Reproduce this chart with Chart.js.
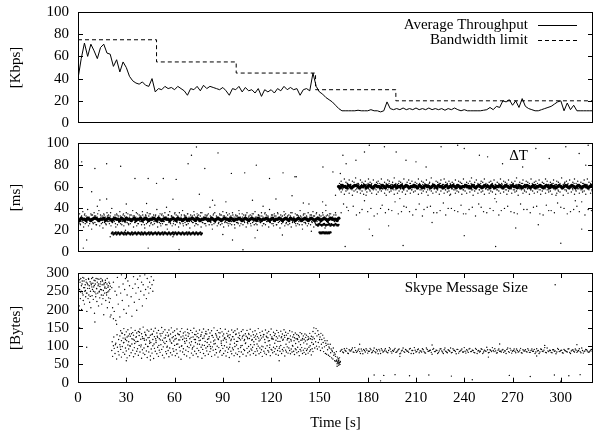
<!DOCTYPE html>
<html><head><meta charset="utf-8">
<script src="https://cdn.jsdelivr.net/npm/chart.js@4.4.1/dist/chart.umd.min.js"></script>
<style>
html,body{margin:0;padding:0;background:#fff;width:594px;height:434px;overflow:hidden}
canvas{position:absolute;left:0}
</style></head><body>
<canvas id="c1" width="594" height="132" style="top:0px"></canvas>
<canvas id="c2" width="594" height="132" style="top:130px"></canvas>
<canvas id="c3" width="594" height="172" style="top:262px"></canvas>
<script>
// ---------------- DATA ----------------
const timeTicks = [0,30,60,90,120,150,180,210,240,270,300];
// Top panel: average throughput sampled every 2 s
const thrStart = 0, thrStep = 2;
const throughput = [40,58,72,60,71,65,58,68,71,63,62,51,57,46,55,50,42,38,36,35,
37,34,33,40,28,31,30,33,31,32,30,33,31,29,25,31,30,33,29,34,
31,33,32,31,30,32,29,25,31,30,33,28,32,29,30,27,31,24,30,28,
30,27,31,29,33,30,32,30,31,25,30,31,29,45,33,28,26,23,21,19,
16,13,11,11,11,11,11,11.5,11,11,11,12,11,11,10,11,19,13,12,13,
12,13.5,12,13,12,13.5,12,13,12,13.5,12,13,12,13,11.5,13,12,13.5,12,11,
12,11,11,11,11,11,11.5,12,14,12,15,14,20,19,21,16,20,14,22,15,
13,12,11,11,12,13,14,15,17,19,20,11,18,12,16,11,11,11,11,11,11];
const bwTimes = [0,48.8,98.3,147.6,197.5,320];
const bwValues = [75,55,45,30,20,20];

// Middle panel: delta T [ms]
const core30Start = 0, core30Step = 1;
const core30 = [30,29,31,30,30,29,31,30,29,30,31,31,30,29,30,30,31,29,30,31,
30,29,30,31,30,30,29,31,30,29,31,30,30,29,30,31,29,30,30,31,
29,30,31,30,29,30,30,31,30,29,31,30,29,30,31,30,30,29,30,31,
30,29,31,30,30,29,30,31,29,30,30,31,30,29,31,30,29,30,30,31,
30,30,29,31,30,29,30,31,30,29,30,31,30,30,29,31,30,29,30,30,
31,30,29,30,31,30,29,30,31,30,30,29,31,30,29,30,30,31,30,29,
30,31,29,30,30,31,30,29,30,31,30,29,31,30,30,29,30,31,30,29,
30,31,30,29,30,31,30,29,30,31,30,29,30,31,30,29,30,31,30,30,
30,29,31];
const core25Start = 148, core25Step = 0.5;
const core25 = [25,25,24,25,26,25,25,24,25,25,26,25,24,25,25,25,26,25,24,25,25,25,24,25,26,25,25,24,25];
const band18Start = 21, band18Step = 0.5;
const band18 = [17,18,16,17,17,18,16,17,18,17,16,17,18,17,17,16,18,17,16,17,
18,17,17,16,17,18,16,17,17,18,17,16,17,18,17,17,16,18,17,16,
17,18,17,16,17,17,18,16,17,18,17,16,17,17,18,17,16,17,18,17,
16,17,17,18,16,17,18,17,17,16,17,18,17,16,17,17,18,16,17,18,
17,16,17,18,17,17,16,17,18,17,16,17,17,18,16,17,18,17,16,17,
17,18,17,16,17,18,17,16,17,17,18,16,17];
const band18bStart = 150, band18bStep = 0.5;
const band18b = [18,17,18,17,18,18,17,18,17,18,17,18,17,18,18];
const cloud30HiStart = 0, cloud30HiStep = 1;
const cloud30Hi = [33,35,32,37,34,33,39,32,35,34,36,33,32,38,34,33,35,32,36,34,
33,40,32,34,35,33,37,32,34,33,36,35,32,34,38,33,32,35,34,33,
37,32,34,36,33,35,32,34,33,39,32,35,34,33,36,32,34,37,33,32,
35,34,33,36,32,38,34,33,35,32,34,33,37,32,35,34,33,36,32,34,
33,35,41,32,34,36,33,32,35,34,37,33,32,34,35,33,36,32,34,33,
38,32,35,34,33,36,32,34,33,35,37,32,34,33,36,32,35,34,33,39,
32,34,35,33,36,32,34,33,37,35,32,34,33,36,32,35,34,33,38,32,
34,35,33,36,32,34,37,33,35,32,34,33,36,32,38,34,33,35,32,34,
36];
const cloud30LoStart = 0.5, cloud30LoStep = 1;
const cloud30Lo = [27,25,28,23,26,27,24,28,21,26,27,25,28,24,26,22,27,25,28,26,
24,27,28,23,25,27,26,28,24,20,27,25,26,28,23,27,24,26,28,25,
27,22,26,28,24,27,25,26,28,23,27,24,26,28,25,21,27,26,24,28,
25,27,23,26,28,24,27,25,26,22,28,27,24,26,25,28,23,27,26,24,
28,25,27,21,26,28,24,27,25,26,23,28,27,24,26,25,28,22,27,26,
24,28,25,27,23,26,28,24,27,25,26,20,28,27,24,26,25,28,23,27,
26,24,28,25,27,22,26,28,24,27,25,26,23,28,27,24,26,25,28,21,
27,26,24,28,25,27,23,26,28,24,27,25,26,22,28,27,24,26,25,28,
24];
const cloud30MidStart = 0.25, cloud30MidStep = 1;
const cloud30Mid = [34,26,33,27,35,28,32,26,34,27,33,25,35,28,32,27,34,26,33,28,
36,27,32,26,34,28,33,25,35,27,32,26,34,28,33,27,36,26,32,28,
34,25,33,27,35,26,32,28,34,27,33,26,35,28,32,25,34,27,33,26,
36,28,32,27,34,26,33,25,35,28,32,27,34,26,33,28,36,27,32,26,
34,28,33,25,35,27,32,26,34,28,33,27,36,26,32,28,34,25,33,27,
35,26,32,28,34,27,33,26,35,28,32,25,34,27,33,26,36,28,32,27,
34,26,33,25,35,28,32,27,34,26,33,28,36,27,32,26,34,28,33,25,
35,27,32,26,34,28,33,27,36,26,32,28,34,25,33,27,35,26,32,28,
34];
const core60Start = 162, core60Step = 1;
const core60 = [60,59,61,60,60,59,61,60,59,60,61,61,60,59,60,60,61,59,60,61,
60,59,60,61,60,60,59,61,60,59,61,60,60,59,60,61,59,60,60,61,
59,60,61,60,59,60,60,61,60,59,61,60,59,60,61,60,60,59,60,61,
60,59,61,60,60,59,60,61,59,60,60,61,60,59,61,60,59,60,60,61,
60,60,59,61,60,59,60,61,60,59,60,61,60,60,59,61,60,59,60,60,
61,60,59,60,61,60,59,60,61,60,60,59,61,60,59,60,60,61,60,59,
60,61,59,60,60,61,60,59,60,61,60,59,61,60,60,59,60,61,60,59,
60,61,60,59,60,61,60,59,60,61,60,59,60,61,60,59,60,61,60];
const cloud60HiStart = 162.5, cloud60HiStep = 1;
const cloud60Hi = [63,65,62,67,64,63,66,62,65,64,68,63,62,66,64,63,65,62,67,64,
63,66,62,64,65,63,67,62,64,63,66,65,62,64,68,63,62,65,64,63,
67,62,64,66,63,65,62,64,63,67,62,65,64,63,66,62,64,68,63,62,
65,64,63,66,62,67,64,63,65,62,64,63,66,62,65,64,63,67,62,64,
63,65,68,62,64,66,63,62,65,64,67,63,62,64,65,63,66,62,64,63,
67,62,65,64,63,66,62,64,63,65,68,62,64,63,66,62,65,64,63,67,
62,64,65,63,66,62,64,63,67,65,62,64,63,66,62,65,64,63,68,62,
64,65,63,66,62,64,67,63,65,62,64,63,66,62,67,64,63,65];
const cloud60LoStart = 162.5, cloud60LoStep = 1;
const cloud60Lo = [57,55,58,53,56,57,54,58,52,56,57,55,58,54,56,53,57,55,58,56,
54,57,58,53,55,57,56,58,54,52,57,55,56,58,53,57,54,56,58,55,
57,53,56,58,54,57,55,56,58,53,57,54,56,58,55,52,57,56,54,58,
55,57,53,56,58,54,57,55,56,53,58,57,54,56,55,58,53,57,56,54,
58,55,57,52,56,58,54,57,55,56,53,58,57,54,56,55,58,53,57,56,
54,58,55,57,53,56,58,54,57,55,56,52,58,57,54,56,55,58,53,57,
56,54,58,55,57,53,56,58,54,57,55,56,53,58,57,54,56,55,58,52,
57,56,54,58,55,57,53,56,58,54,57,55,56,53,58,57,54,56];
const cloud60MidStart = 162.25, cloud60MidStep = 1;
const cloud60Mid = [58,62,57,61,59,63,58,62,57,61,60,58,63,57,62,59,61,58,63,57,
62,58,61,57,63,59,62,58,61,57,60,63,58,62,57,61,59,63,58,62,
57,61,60,58,63,57,62,59,61,58,63,57,62,58,61,57,63,59,62,58,
61,57,60,63,58,62,57,61,59,63,58,62,57,61,60,58,63,57,62,59,
61,58,63,57,62,58,61,57,63,59,62,58,61,57,60,63,58,62,57,61,
59,63,58,62,57,61,60,58,63,57,62,59,61,58,63,57,62,58,61,57,
63,59,62,58,61,57,60,63,58,62,57,61,59,63,58,62,57,61,60,58,
63,57,62,59,61,58,63,57,62,58,61,57,63,59,62,58,61,57];
const delta40T = [165,168,171,175,178,182,186,189,193,197,201,204,208,212,215,219,223,227,230,234,238,241,245,249,252,256,260,263,267,271,275,279,283,287,291,294,298,302,306,310,313,317];
const delta40V = [44,38,42,36,47,40,35,43,39,46,37,41,34,44,39,42,36,45,40,38,43,35,41,44,37,40,46,38,42,36,44,39,41,35,43,38,45,40,37,42,46,39];
const delta36T = [163.5,167,173,176.5,180,184,188,191,195,199,202.5,206,210,214,217,221,225,228.5,232,236,239.5,243,247,250.5,254,258,261.5,265,269,273,277,281,285,289,292.5,296,300,304,308,311.5,315,319];
const delta36V = [36,41,34,39,37,33,40,36,38,35,42,37,39,33,41,36,38,34,40,37,35,39,33,41,36,38,34,40,37,35,39,36,42,34,38,36,41,35,39,37,34,38];
const deltaOutliers = [[2.3,82.7],[10.5,76.6],[17.8,81],[26.5,78.7],[35.4,67.5],[43.6,67.5],[48.8,63],[53,67.5],[61,66.6],[70.5,88.8],[68.4,81],[73.6,96.3],[78.8,76.6],[87,90.9],[95.3,72.1],[103.6,72.6],[110.8,79.7],[119,67.5],[127.4,72.6],[134.8,69],[8.5,55.3],[13.6,47.7],[17.8,48.6],[3.3,3.6],[43.6,3.6],[62.8,2.3],[102.5,2],[42.6,44.5],[59,48.5],[75.4,53],[83.6,47.5],[91.9,46],[108.4,47.5],[123,48.6],[133,51.6],[5.4,11],[59,14],[96,11],[127,15.6],
[164.6,88.8],[178,91.8],[181,98],[190.4,96.5],[197.7,91.8],[203.8,84.2],[210,82.7],[216.3,78],[225.6,96.5],[235.9,98],[240,95],[249.4,88.8],[254.5,87.3],[263.8,81],[276.3,78],[284.5,95],[292.8,85.8],[303.1,96.5],[311.4,90.3],[315.5,79.7],[317,98],[152.2,78],[158.4,73.5],[135.6,69],[163,72],[166.6,81],[172.7,84.2],
[179,52],[200,49],[231,52],[259,49],[297,52],[309,47],[181,21],[183,15],[193,24],[220,27],[240,15],[259.5,5],[272,22],[286,25],[300,8],[313,21],[166,5],[202,6],
[152,46],[154,43],[143.5,44],[160,52],[12,42],[30,44],[55,41],[85,43],[115,42],[140,45],[20,14],[90,16],[110,13],[145,19]];

// Bottom panel: Skype message size [Bytes]
const earlyStart = 0, earlyStep = 0.25;
const early = [265,240,280,210,255,275,230,285,250,200,270,245,288,225,260,278,215,250,268,235,
282,245,195,272,258,230,285,240,265,220,276,250,205,268,285,238,255,272,228,262,
280,190,248,270,235,285,258,222,275,245,265,210,283,250,232,270,255,285,240,215,
268,278,230,252,186,272,245,262,280,225,258,240,270,205,248,265,232,275,220,255,
180];
const early2Start = 0.125, early2Step = 0.5;
const early2 = [270,255,282,248,265,278,240,286,260,252,275,245,268,283,258,236,272,262,288,250,
266,279,243,257,284,270,248,263,276,254,281,239,268,259,274,246,285,261,251,271,264];
const lateEarlyStart = 20, lateEarlyStep = 0.5;
const lateEarly = [230,185,260,205,275,195,250,170,240,288,215,262,180,245,295,225,270,200,255,285,
190,240,278,210,265,300,235,182,258,290,220,270,245,198,283,260,228,292,250,275,
210,268,240,295,255,230,285,262,245,275,258,290,268,250,280];
const upperStart = 26, upperStep = 0.5;
const upperBand = [128,142,115,135,122,148,131,118,139,125,145,112,133,127,150,120,137,130,116,143,
124,136,113,140,129,147,119,134,126,152,121,138,132,117,144,123,141,114,130,146,
132,118,141,126,149,115,136,124,143,120,134,128,151,116,139,122,145,130,113,137,
127,144,119,133,150,123,138,114,142,129,121,147,135,117,131,140,125,148,118,136,
122,139,130,115,146,127,134,120,143,112,137,125,149,132,118,141,126,135,123,144,
116,131,138,121,147,128,113,140,133,119,145,126,136,111,142,129,124,150,117,134,
130,143,120,137,125,148,114,139,128,133,121,146,118,135,127,141,123,131,115,144,
126,138,119,142,132,113,147,124,136,129,117,140,122,145,130,118,134,127,143,120,
135,121,146,128,116,139,131,124,142,119,133,126,148,114,137,129,122,141,125,132,
118,144,127,136,123,140,115,131,147,125,120,138,129,134,116,143,122,137,128,113,
141,126,133,119,145,124,138,130,117,135,121,142,128,114,139,125,131,123,136,120,
132,118,129,125,137,116,134,121,128,119,133,124,130,117,126,122,135,120,127,118,125];
const lowerStart = 21, lowerStep = 0.5;
const lowerBand = [88,72,101,94,80,108,65,97,85,76,104,91,70,99,83,110,78,95,87,68,
103,92,74,100,82,106,89,71,96,79,112,86,93,75,102,84,98,67,90,81,
95,77,105,87,69,99,84,108,73,92,81,101,66,94,86,110,79,97,72,89,
83,104,91,75,98,68,107,85,79,100,88,71,95,82,109,76,93,86,102,74,
90,80,106,70,97,87,64,101,84,93,77,108,89,73,99,85,96,68,103,81,
92,75,100,86,110,79,94,71,88,105,83,97,67,91,80,102,74,95,87,99,
78,104,85,93,72,98,89,106,76,91,82,100,70,96,84,88,108,75,94,80,
101,87,73,97,83,92,69,105,86,79,95,90,74,99,81,103,77,93,85,71,
96,84,102,78,91,88,107,73,94,82,99,86,76,92,89,97,80,104,85,75,
93,87,100,79,95,83,90,72,98,86,81,94,77,101,88,84,96,74,91,89,
82,97,85,93,78,99,88,75,94,86,102,80,91,87,96,73,89,84,98,81,
95,88,79,92,84,100,86,77,93,90,82,97,85,74,91,87,96,80,89,83,
94,78,88,92,81,97,86,90,76,93,85];
const midStart = 21.25, midStep = 1;
const midBand = [112,125,104,131,118,98,136,109,122,115,128,101,134,119,107,126,113,138,103,121,
116,129,99,124,110,133,106,120,127,102,117,135,111,123,97,130,114,108,126,119,
105,132,117,100,128,113,121,137,109,124,96,118,131,106,115,127,103,122,134,110,
120,99,129,114,107,125,118,136,102,116,123,111,130,97,119,126,108,133,113,121,
101,127,115,109,124,132,104,118,112,128,106,122,117,100,131,110,125,114,103,120,
119,108,126,113,98,123,116,129,105,121,111,118,102,115,107,120,112,104,117,109,
114,106,119,101,110,105];
const transStart = 146, transStep = 0.275;
const transition = [140,105,150,120,95,135,112,148,100,
128,92,142,110,132,98,118,
125,88,135,105,118,95,130,
110,85,122,98,115,80,108,
102,78,115,90,105,75,98,
95,72,105,82,92,68,88,
85,65,95,75,82,60,78,
72,58,85,62,70,55,66,
60,52,68,56];
const tailAStart = 163, tailAStep = 1;
const tailA = [86,91,82,88,94,80,87,90,84,96,83,89,85,92,79,88,93,81,86,90,
84,95,82,87,91,80,89,85,93,83,88,92,81,86,94,84,90,79,87,95,
83,89,86,92,80,88,96,84,90,82,87,93,85,81,91,86,89,78,94,85,
88,83,92,87,80,95,84,90,86,82,93,88,79,91,85,89,84,96,81,87,
92,85,89,83,94,80,88,86,91,84,87,97,82,90,85,88,93,81,89,86,
84,91,87,80,95,83,89,86,92,82,88,85,94,81,87,90,84,89,83,92,
86,80,93,88,84,91,85,96,82,87,89,83,90,86,79,94,85,88,82,91,
87,84,93,80,89,86,92,83,88,85,95,81,87,90,84,86,91,83];
const tailBStart = 163.5, tailBStep = 1;
const tailB = [89,84,93,86,81,90,87,95,83,88,85,92,80,87,91,84,89,86,94,82,
88,85,91,79,87,93,84,89,86,82,96,85,88,90,83,87,92,81,89,85,
91,86,83,94,88,80,89,85,92,87,84,90,82,95,86,88,83,91,85,89,
80,87,93,84,90,86,82,88,95,83,89,85,91,81,87,92,84,86,90,83,
94,85,88,82,91,87,84,93,80,89,86,90,83,88,96,85,87,82,92,86,
89,83,87,91,85,94,81,88,86,92,84,89,82,90,87,85,93,83,88,86,
91,84,87,80,92,86,89,83,95,85,88,82,90,87,84,91,86,89,81,88,
85,92,83,87,90,84,89,86,93,82,88,85,91,87,83,89,86];
const sizeOutliers = [[5.4,97],[10.5,166],[1,150],[0.5,200],[0.2,175],[24,160],[22,175],[30,60],[45,62],[100,58],[125,60],
[161,52],[161.5,58],[162,48],[162.5,55],[162,62],[161,45],[162.8,50],[160.5,60],[163,58],[161.8,54],
[184,21],[190,20],[197,22],[206,19],[218,21],[232,18],[268,20],[281,17],[296,21],[305,19],[312,22],[188,5],[245,8],[300,4],
[175,105],[220,103],[262,106],[290,102],[310,104],[200,72],[255,70],[285,73],[296.5,268]];

// ---------------- HELPERS ----------------
const FAMILY = "'Liberation Serif','Times New Roman',serif";
const FONT = {family: FAMILY, size: 15, lineHeight: 1.2, style:'normal', weight:'normal'};
Chart.defaults.font.family = FAMILY;
Chart.defaults.font.size = 15;
Chart.defaults.color = '#000';

function series(start, step, vals){ return vals.map((v,i)=>({x:start+i*step, y:v})); }
function pairs(list){ return list.map(p=>({x:p[0], y:p[1]})); }
function zip(ts, vs){ return ts.map((t,i)=>({x:t, y:vs[i]})); }

function dots(data, r){
  return {data, pointRadius:r, pointHoverRadius:0, borderWidth:0, backgroundColor:'#000', showLine:false};
}

function noPad(s){ s.paddingTop = 0; s.paddingBottom = 0; s.paddingLeft = 0; s.paddingRight = 0; }

const framePlugin = {
  id: 'frame',
  afterDraw(chart, args, opts){
    const {ctx, chartArea:a, scales} = chart;
    ctx.save();
    ctx.strokeStyle = '#000';
    ctx.lineWidth = 1;
    ctx.setLineDash([]);
    ctx.strokeRect(Math.round(a.left)+0.5, Math.round(a.top)+0.5, Math.round(a.right-a.left)-1, Math.round(a.bottom-a.top)-1);
    const L = 5;
    ctx.beginPath();
    const ys = scales.y;
    ys.ticks.forEach(t=>{
      const p = Math.round(ys.getPixelForValue(t.value))+0.5;
      if (p <= a.top+2 || p >= a.bottom-2) return;
      ctx.moveTo(a.left, p); ctx.lineTo(a.left+L, p);
      ctx.moveTo(a.right, p); ctx.lineTo(a.right-L, p);
    });
    if (opts.xTicks){
      const xs = scales.x;
      xs.ticks.forEach(t=>{
        const p = Math.round(xs.getPixelForValue(t.value))+0.5;
        if (p <= a.left+2 || p >= a.right-2) return;
        ctx.moveTo(p, a.bottom); ctx.lineTo(p, a.bottom-L);
        ctx.moveTo(p, a.top); ctx.lineTo(p, a.top+L);
      });
    }
    ctx.stroke();
    if (opts.key){
      ctx.font = "15px " + FAMILY;
      ctx.fillStyle = '#000';
      ctx.textAlign = 'right';
      ctx.textBaseline = 'middle';
      const textRight = a.right - opts.key.right;
      opts.key.items.forEach((idx, row)=>{
        const ds = chart.data.datasets[idx];
        const y = a.top + opts.key.top + row*opts.key.rowGap;
        ctx.fillText(ds.label, textRight, y);
        if (opts.key.sample){
          ctx.beginPath();
          ctx.lineWidth = ds.borderWidth || 1;
          ctx.setLineDash(ds.borderDash || []);
          ctx.moveTo(textRight+10, Math.round(y)+0.5);
          ctx.lineTo(textRight+49, Math.round(y)+0.5);
          ctx.stroke();
          ctx.setLineDash([]);
        }
      });
    }
    ctx.restore();
  }
};

function yScale(min, max, step, title){
  return {
    min, max,
    ticks: {stepSize: step, padding: 9, color:'#000', font: FONT, autoSkip:false},
    grid: {display:false, drawTicks:false},
    border: {display:false},
    title: {display:true, text:title, color:'#000', font: FONT, padding:{top:7, bottom:0}},
    afterFit(s){ s.width = 78; noPad(s); }
  };
}
function hiddenX(){
  return {type:'linear', min:0, max:320, display:false};
}
const common = {
  responsive:false, animation:false, events:[], devicePixelRatio:1
};

// ---------------- TOP PANEL ----------------
new Chart(document.getElementById('c1'), {
  type:'line',
  data:{datasets:[
    {label:'Average Throughput', data: series(thrStart, thrStep, throughput), borderColor:'#000', borderWidth:1, pointRadius:0, pointHoverRadius:0, tension:0},
    {label:'Bandwidth limit', data: zip(bwTimes, bwValues), borderColor:'#000', borderWidth:1, borderDash:[4,3], pointRadius:0, pointHoverRadius:0, stepped:true}
  ]},
  options:{...common,
    layout:{autoPadding:false, padding:{top:12, bottom:9, left:0, right:1}},
    scales:{x: hiddenX(), y: yScale(0,100,20,'[Kbps]')},
    plugins:{legend:{display:false}, tooltip:{enabled:false}, frame:{key:{items:[0,1], top:13, rowGap:15, right:65, sample:true}}}
  },
  plugins:[framePlugin]
});

// ---------------- MIDDLE PANEL ----------------
new Chart(document.getElementById('c2'), {
  type:'scatter',
  data:{datasets:[
    {label:'\u0394T', ...dots(series(core30Start, core30Step, core30), 1.8)},
    dots(series(core25Start, core25Step, core25), 1.0),
    dots(series(band18Start, band18Step, band18), 1.1),
    dots(series(band18bStart, band18bStep, band18b), 1.1),
    dots(series(cloud30HiStart, cloud30HiStep, cloud30Hi), 0.7),
    dots(series(cloud30LoStart, cloud30LoStep, cloud30Lo), 0.7),
    dots(series(cloud30MidStart, cloud30MidStep, cloud30Mid), 0.7),
    dots(series(core60Start, core60Step, core60), 1.8),
    dots(series(cloud60HiStart, cloud60HiStep, cloud60Hi), 0.7),
    dots(series(cloud60LoStart, cloud60LoStep, cloud60Lo), 0.7),
    dots(series(cloud60MidStart, cloud60MidStep, cloud60Mid), 0.7),
    dots(zip(delta40T, delta40V), 0.7),
    dots(zip(delta36T, delta36V), 0.7),
    dots(pairs(deltaOutliers), 0.7)
  ]},
  options:{...common,
    layout:{autoPadding:false, padding:{top:13, bottom:10, left:0, right:1}},
    scales:{x: hiddenX(), y: yScale(0,100,20,'[ms]')},
    plugins:{legend:{display:false}, tooltip:{enabled:false}, frame:{key:{items:[0], top:13, rowGap:15, right:65, sample:false}}}
  },
  plugins:[framePlugin]
});

// ---------------- BOTTOM PANEL ----------------
new Chart(document.getElementById('c3'), {
  type:'scatter',
  data:{datasets:[
    {label:'Skype Message Size', ...dots(series(earlyStart, earlyStep, early), 0.7)},
    dots(series(early2Start, early2Step, early2), 0.7),
    dots(series(lateEarlyStart, lateEarlyStep, lateEarly), 0.7),
    dots(series(upperStart, upperStep, upperBand), 0.7),
    dots(series(lowerStart, lowerStep, lowerBand), 0.7),
    dots(series(midStart, midStep, midBand), 0.7),
    dots(series(transStart, transStep, transition), 0.7),
    dots(series(tailAStart, tailAStep, tailA), 0.7),
    dots(series(tailBStart, tailBStep, tailB), 0.7),
    dots(pairs(sizeOutliers), 0.7)
  ]},
  options:{...common,
    layout:{autoPadding:false, padding:{top:11, bottom:0, left:0, right:1}},
    scales:{
      x:{type:'linear', min:0, max:320,
        afterBuildTicks(s){ s.ticks = timeTicks.map(v=>({value:v})); },
        ticks:{padding:6, maxRotation:0, autoSkip:false, color:'#000', font:FONT},
        grid:{display:false, drawTicks:false}, border:{display:false},
        title:{display:true, text:'Time [s]', color:'#000', font:FONT, padding:{top:0, bottom:2}},
        afterFit(s){ s.height = 51.3; noPad(s); }
      },
      y: yScale(0,300,50,'[Bytes]')
    },
    plugins:{legend:{display:false}, tooltip:{enabled:false}, frame:{xTicks:true, key:{items:[0], top:15, rowGap:15, right:65, sample:false}}}
  },
  plugins:[framePlugin]
});
</script>
</body></html>
